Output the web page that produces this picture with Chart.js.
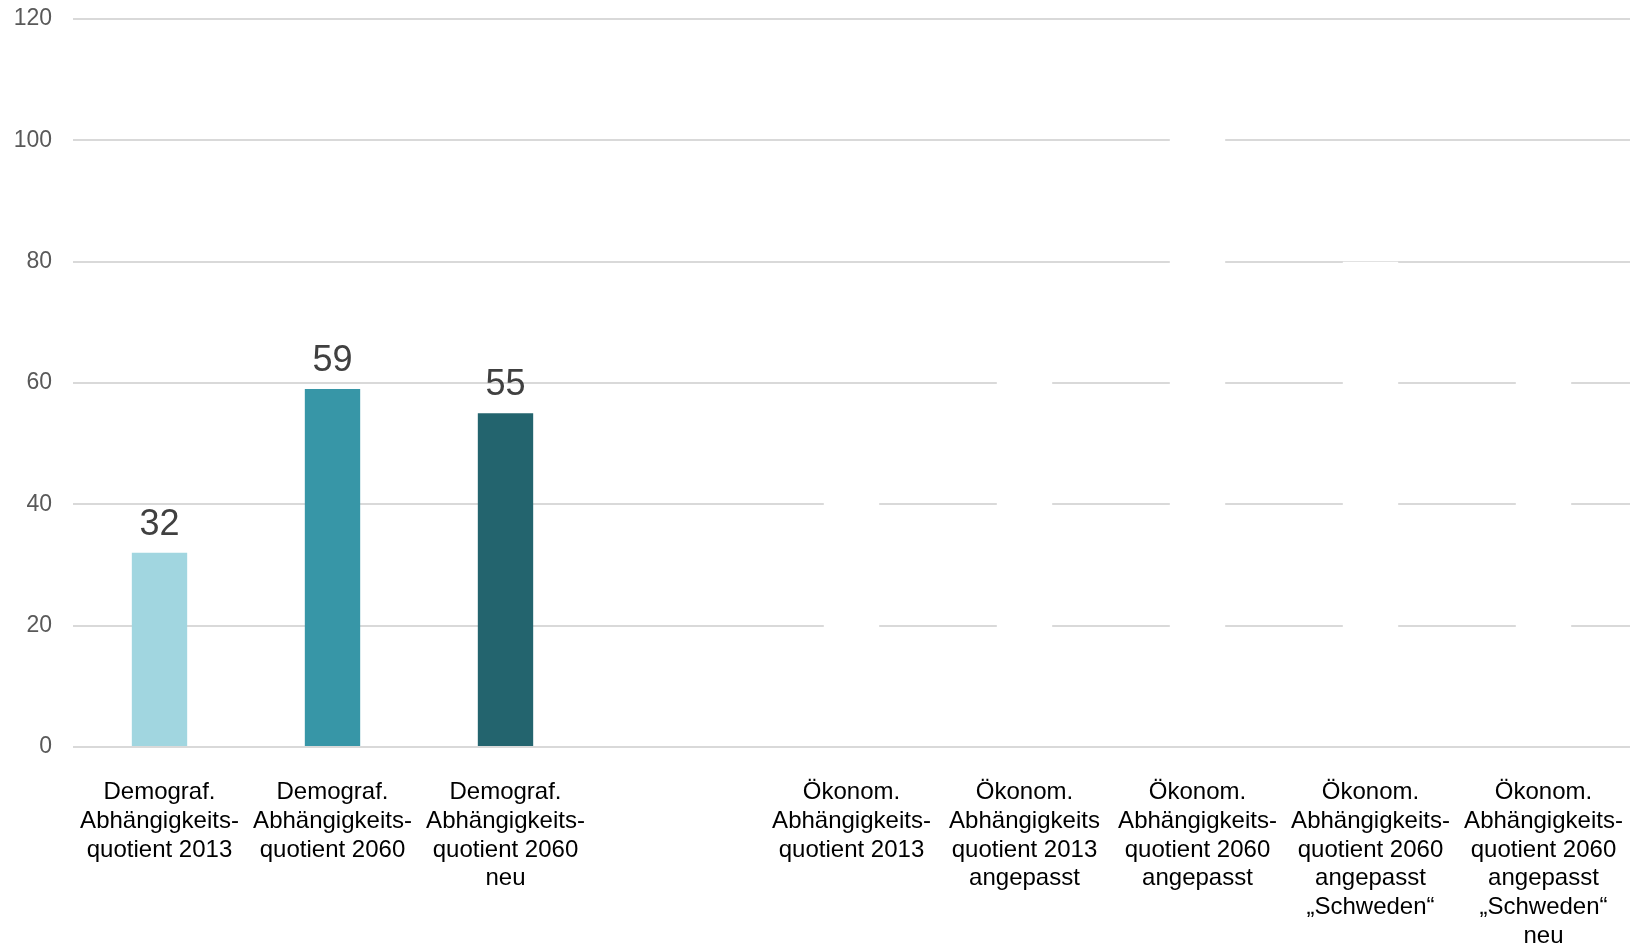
<!DOCTYPE html>
<html lang="de">
<head>
<meta charset="utf-8">
<title>Abhängigkeitsquotienten</title>
<script src="https://cdn.jsdelivr.net/npm/chart.js@4/dist/chart.umd.min.js"></script>
<style>
  html, body { margin: 0; padding: 0; background: #fff; }
  #wrap { position: relative; width: 1641px; height: 944px; }
</style>
</head>
<body>
<div id="wrap"><canvas id="chart"></canvas></div>
<script>
// ─────────────────────────────────────────────────────────────
// Daten
// ─────────────────────────────────────────────────────────────
const kategorien = [
  ['Demograf.', 'Abhängigkeits-', 'quotient 2013'],
  ['Demograf.', 'Abhängigkeits-', 'quotient 2060'],
  ['Demograf.', 'Abhängigkeits-', 'quotient 2060', 'neu'],
  '',
  ['Ökonom.', 'Abhängigkeits-', 'quotient 2013'],
  ['Ökonom.', 'Abhängigkeits', 'quotient 2013', 'angepasst'],
  ['Ökonom.', 'Abhängigkeits-', 'quotient 2060', 'angepasst'],
  ['Ökonom.', 'Abhängigkeits-', 'quotient 2060', 'angepasst', '„Schweden“'],
  ['Ökonom.', 'Abhängigkeits-', 'quotient 2060', 'angepasst', '„Schweden“', 'neu']
];
// die ökonom. Werte sind im Original weiß (nur als Lücken im Gitter sichtbar) -> geschätzt
const werte = [32, 59, 55, null, 50, 70, 110, 80, 70];
const farben = ['#A1D6E0', '#3796A7', '#23646E', '#FFFFFF', '#FFFFFF', '#FFFFFF', '#FFFFFF', '#FFFFFF', '#FFFFFF'];
const yTicks = [0, 20, 40, 60, 80, 100, 120];

const FONT = '"Liberation Sans", Arial, sans-serif';

// Wertebeschriftung über den sichtbaren Balken
const wertLabels = {
  id: 'wertLabels',
  afterDatasetsDraw(chart) {
    const ctx = chart.ctx;
    const meta = chart.getDatasetMeta(0);
    ctx.save();
    ctx.font = '36px ' + FONT;
    ctx.fillStyle = '#404040';
    ctx.textAlign = 'center';
    ctx.textBaseline = 'alphabetic';
    meta.data.forEach((bar, i) => {
      if (werte[i] == null || farben[i] === '#FFFFFF') return;
      ctx.fillText(String(werte[i]), bar.x, bar.y - 18);
    });
    ctx.restore();
  }
};

new Chart(document.getElementById('chart'), {
  type: 'bar',
  data: {
    labels: kategorien,
    datasets: [{
      data: werte,
      backgroundColor: farben,
      borderWidth: 0,
      barPercentage: 0.32,
      categoryPercentage: 1
    }]
  },
  options: {
    responsive: true,
    maintainAspectRatio: false,
    animation: false,
    layout: { padding: { top: 19, right: 11, bottom: 0, left: 0 } },
    plugins: { legend: { display: false }, tooltip: { enabled: false } },
    scales: {
      x: {
        grid: { display: false, drawTicks: false },
        border: { display: false },
        ticks: {
          font: { family: FONT, size: 24, lineHeight: 1.2 },
          color: '#000000',
          padding: 31,
          maxRotation: 0,
          autoSkip: false
        },
        afterFit: s => { s.height = 197; s.paddingLeft = 0; s.paddingRight = 0; }
      },
      y: {
        min: 0, max: 120,
        afterBuildTicks: s => { s.ticks = yTicks.map(v => ({ value: v })); },
        grid: { color: '#D9D9D9', lineWidth: 2, drawTicks: false },
        border: { display: false },
        ticks: {
          font: { family: FONT, size: 23 },
          color: '#595959',
          padding: 21
        },
        afterFit: s => { s.width = 73; s.paddingTop = 0; s.paddingBottom = 0; }
      }
    }
  },
  plugins: [wertLabels]
});
</script>
</body>
</html>
